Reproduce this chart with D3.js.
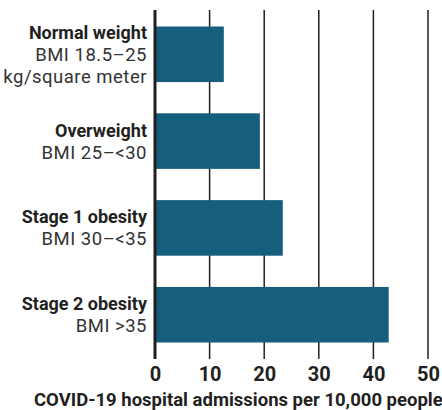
<!DOCTYPE html>
<html>
<head>
<meta charset="utf-8">
<script src="https://cdn.jsdelivr.net/npm/d3@7"></script>
<style>
  body { margin: 0; background: #fff; }
  text { font-family: "Roboto", "Liberation Sans", sans-serif; }
</style>
</head>
<body>
<div class="chart"></div>
<script>
// data
const categories = ["Normal weight", "Overweight", "Stage 1 obesity", "Stage 2 obesity"];
const subLabels = [["BMI 18.5\u201325", "kg/square meter"], ["BMI 25\u2013<30"], ["BMI 30\u2013<35"], ["BMI >35"]];
const admissions = [12.6, 19.2, 23.4, 42.8];
const xTicks = [0, 10, 20, 30, 40, 50];
const xTitle = "COVID-19 hospital admissions per 10,000 people";

// margin conventions
const width = 442, height = 410;
const margin = {top: 10, left: 155, right: 14, bottom: 51};

const svg = d3.select(".chart").append("svg")
    .attr("width", width)
    .attr("height", height);

const xScale = d3.scaleLinear()
    .domain([0, 50])
    .range([margin.left, width - margin.right]);

const yScale = d3.scaleBand()
    .domain(categories)
    .range([margin.top, height - margin.bottom])
    .paddingInner(0.36)
    .paddingOuter(0.19);

const ink = "#231f20";

// gridlines
svg.append("g")
    .selectAll("line")
    .data(xTicks.slice(1))
    .join("line")
    .attr("x1", d => xScale(d))
    .attr("x2", d => xScale(d))
    .attr("y1", margin.top)
    .attr("y2", height - margin.bottom)
    .attr("stroke", ink)
    .attr("stroke-width", 1.5);

// bars
svg.append("g")
    .selectAll("rect")
    .data(admissions)
    .join("rect")
    .attr("x", xScale(0))
    .attr("y", (d, i) => yScale(categories[i]))
    .attr("width", d => xScale(d) - xScale(0))
    .attr("height", yScale.bandwidth())
    .attr("fill", "#155e7e");

// zero axis line
svg.append("line")
    .attr("x1", xScale(0))
    .attr("x2", xScale(0))
    .attr("y1", margin.top)
    .attr("y2", height - margin.bottom)
    .attr("stroke", ink)
    .attr("stroke-width", 3);

// x axis labels
const xAxis = d3.axisBottom(xScale)
    .tickValues(xTicks)
    .tickSize(0)
    .tickPadding(0);

const xAxisChart = svg.append("g")
    .attr("transform", `translate(0, ${height - margin.bottom})`)
    .call(xAxis);

xAxisChart.select(".domain").remove();
xAxisChart.selectAll("text")
    .attr("dy", null)
    .attr("y", 22)
    .attr("font-size", 20)
    .attr("font-weight", "bold")
    .attr("font-family", null)
    .attr("fill", ink);

// axis title
svg.append("text")
    .attr("x", 34)
    .attr("y", 406)
    .attr("font-size", 18.5)
    .attr("font-weight", "bold")
    .attr("fill", ink)
    .text(xTitle);

// category labels
const lineH = 22;
const labels = svg.append("g")
    .selectAll("text")
    .data(categories)
    .join("text")
    .attr("text-anchor", "end")
    .attr("font-size", 18)
    .attr("fill", ink)
    .attr("transform", (d, i) => {
        const n = 1 + subLabels[i].length;
        const cy = yScale(d) + yScale.bandwidth() / 2;
        return `translate(147, ${cy - (n - 1) * lineH / 2 + 6.5})`;
    });

labels.append("tspan")
    .attr("x", 0)
    .attr("font-weight", "bold")
    .text(d => d);

labels.selectAll("tspan.sub")
    .data((d, i) => subLabels[i])
    .join("tspan")
    .attr("class", "sub")
    .attr("x", 0)
    .attr("dy", lineH)
    .attr("font-size", 18.5)
    .attr("letter-spacing", 0.5)
    .attr("fill", "#333")
    .text(d => d);
</script>
</body>
</html>
